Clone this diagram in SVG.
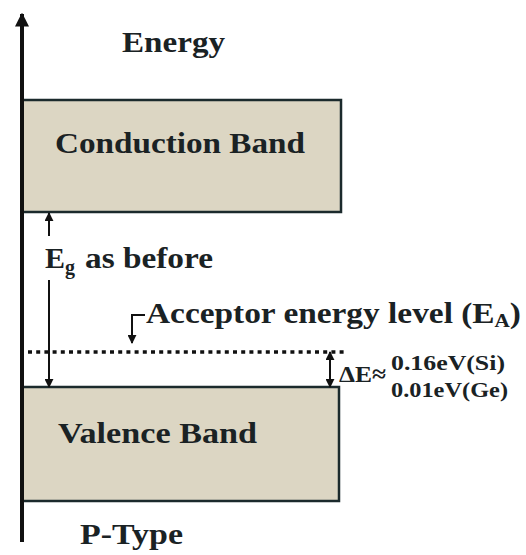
<svg xmlns="http://www.w3.org/2000/svg" width="526" height="555" viewBox="0 0 526 555">
<defs>
<style>
.band{fill:#dcd6c3;stroke:#1b2a2c;stroke-width:2.5}
.t{font-family:'Liberation Serif',Tinos,'Times New Roman',Times,serif;font-weight:700;fill:#1a2224}
.big{font-size:30px}
.sm{font-size:20px}
.ln{stroke:#111;fill:none}
</style>
<marker id="ah" viewBox="0 0 10 10" refX="9" refY="5" markerWidth="9" markerHeight="9" markerUnits="userSpaceOnUse" orient="auto-start-reverse">
<path d="M0,0 L10,5 L0,10 z" fill="#111"/>
</marker>
<marker id="big" viewBox="0 0 10 10" refX="9" refY="5" markerWidth="14" markerHeight="14" markerUnits="userSpaceOnUse" orient="auto">
<path d="M0,0 L10,5 L0,10 z" fill="#111"/>
</marker>
</defs>
<g id="conduction-band">
<rect class="band" x="22" y="100" width="319" height="112"/>
<text class="t big" x="55" y="153" textLength="250" lengthAdjust="spacingAndGlyphs">Conduction Band</text>
</g>
<g id="valence-band">
<rect class="band" x="22" y="387" width="317" height="114"/>
<text class="t big" x="58" y="443" textLength="199" lengthAdjust="spacingAndGlyphs">Valence Band</text>
</g>
<g id="acceptor-level">
<line class="ln" x1="28" y1="352" x2="344" y2="352" stroke-width="3.5" stroke-dasharray="4 4.2"/>
</g>
<g id="axis">
<line class="ln" x1="22" y1="542" x2="22" y2="14" stroke-width="4" marker-end="url(#big)"/>
</g>
<g id="connectors">
<line class="ln" x1="49" y1="236" x2="49" y2="213" stroke-width="2" marker-end="url(#ah)"/>
<line class="ln" x1="49" y1="280" x2="49" y2="387" stroke-width="2" marker-end="url(#ah)"/>
<path class="ln" d="M145,315 H132 V343" stroke-width="2" marker-end="url(#ah)"/>
<line class="ln" x1="330" y1="352" x2="330" y2="387" stroke-width="2" marker-start="url(#ah)" marker-end="url(#ah)"/>
</g>
<g id="labels">
<text class="t big" x="122" y="52" textLength="103" lengthAdjust="spacingAndGlyphs">Energy</text>
<text class="t big" x="45" y="268" font-size="31">E<tspan font-size="20" dy="6">g</tspan></text>
<text class="t big" x="85" y="268" font-size="31" textLength="128" lengthAdjust="spacingAndGlyphs">as before</text>
<text class="t big" x="146" y="323" textLength="375" lengthAdjust="spacingAndGlyphs">Acceptor energy level (E<tspan font-size="19" dy="4">A</tspan><tspan dy="-4">)</tspan></text>
<text class="t" font-size="24" x="339" y="382" textLength="47" lengthAdjust="spacingAndGlyphs" font-weight="normal">ΔE≈</text>
<text class="t sm" x="391" y="370" textLength="114" lengthAdjust="spacingAndGlyphs">0.16eV(Si)</text>
<text class="t sm" x="391" y="397" textLength="117" lengthAdjust="spacingAndGlyphs">0.01eV(Ge)</text>
<text class="t big" x="80" y="544" textLength="103" lengthAdjust="spacingAndGlyphs">P-Type</text>
</g>
</svg>
